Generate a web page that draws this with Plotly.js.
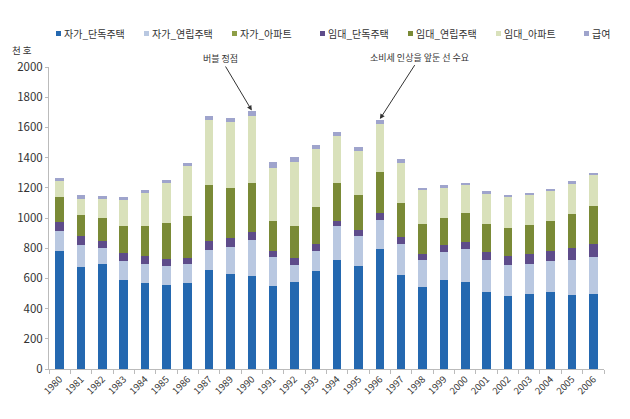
<!DOCTYPE html>
<html>
<head>
<meta charset="utf-8">
<script src="https://cdn.plot.ly/plotly-3.0.1.min.js"></script>
<style>
  body { margin: 0; background: #fff; }
  #chart { width: 630px; height: 419px; }
</style>
</head>
<body>
<div id="chart"></div>
<script>
var years = ["1980", "1981", "1982", "1983", "1984", "1985", "1986", "1987", "1989", "1990",
  "1991", "1992", "1993", "1994", "1995", "1996", "1997", "1998", "1999", "2000",
  "2001", "2002", "2003", "2004", "2005", "2006"];

// 천 호
var ownDetached = [783, 678, 697, 592, 572, 557, 572, 653, 631, 617, 548, 576, 649, 719, 680, 794, 620, 543, 592, 576, 508, 482, 497, 508, 491, 499];
var ownRow = [132, 140, 102, 125, 125, 127, 123, 137, 174, 238, 191, 115, 135, 225, 204, 194, 207, 181, 182, 218, 216, 207, 200, 205, 233, 242];
var ownApt = [0, 0, 0, 0, 0, 0, 0, 0, 0, 0, 0, 0, 0, 0, 0, 0, 0, 0, 0, 0, 0, 0, 0, 0, 0, 0];
var rentDetached = [57, 60, 48, 51, 49, 44, 42, 55, 62, 55, 44, 44, 43, 33, 38, 44, 44, 39, 44, 49, 53, 57, 66, 66, 77, 86];
var rentRow = [168, 145, 150, 176, 198, 238, 277, 374, 334, 324, 194, 209, 249, 253, 231, 275, 227, 194, 185, 189, 180, 187, 190, 198, 224, 255];
var rentApt = [105, 106, 127, 176, 220, 264, 330, 433, 436, 440, 352, 429, 380, 312, 293, 315, 268, 229, 198, 187, 207, 209, 200, 202, 205, 203];
var kyuyeo = [22, 22, 22, 22, 22, 22, 22, 22, 26, 33, 40, 28, 27, 29, 21, 26, 24, 15, 16, 13, 13, 13, 13, 13, 13, 13];

var names = ["자가_단독주택", "자가_연립주택", "자가_아파트", "임대_단독주택", "임대_연립주택", "임대_아파트", "급여"];
var series = [ownDetached, ownRow, ownApt, rentDetached, rentRow, rentApt, kyuyeo];
var colors = ["#2468b0", "#b9c8e1", "#8e9e46", "#5e4c8a", "#7a8a36", "#d9e1bb", "#9fa4cc"];

var data = [];
for (var i = 0; i < series.length; i++) {
  data.push({
    x: years,
    y: series[i],
    name: names[i],
    type: "bar",
    marker: { color: colors[i] },
    hoverinfo: "name+y"
  });
}

// plot area in pixels: left 49, width 555, top 67, height 302
var plotL = 49, plotW = 555, plotT = 67, plotH = 302;
function px(x) { return (x - plotL) / plotW; }
function py(y) { return (plotT + plotH - y) / plotH; }

// legend drawn by hand so the marker sits close to its text, like the original
var shapes = [];
var annotations = [];
for (var i = 0; i < names.length; i++) {
  var lx = 56 + i * 88;
  shapes.push({
    type: "rect", xref: "paper", yref: "paper",
    x0: px(lx), x1: px(lx + 5), y0: py(36), y1: py(31),
    fillcolor: colors[i], line: { width: 0 }
  });
  annotations.push({
    xref: "paper", yref: "paper", x: px(lx + 6), y: py(33.5),
    xanchor: "left", yanchor: "middle", showarrow: false,
    text: names[i], font: { size: 10, color: "#333" }
  });
}

annotations.push({
  xref: "paper", yref: "paper", x: px(22), y: py(50),
  xanchor: "center", yanchor: "middle",
  text: "천 호", showarrow: false, font: { size: 9.5, color: "#333" }
});
annotations.push({
  x: 9, y: 1712, xref: "x", yref: "y",
  text: "버블 정점", showarrow: true,
  arrowhead: 2, arrowsize: 1, arrowwidth: 1, arrowcolor: "#333",
  ax: -31, ay: -52,
  font: { size: 9, color: "#333" }
});
annotations.push({
  x: 15, y: 1655, xref: "x", yref: "y",
  text: "소비세 인상을 앞둔 선 수요", showarrow: true,
  arrowhead: 2, arrowsize: 1, arrowwidth: 1, arrowcolor: "#333",
  ax: 40, ay: -62,
  font: { size: 9, color: "#333" }
});

var layout = {
  width: 630,
  height: 419,
  barmode: "stack",
  bargap: 0.6,
  font: { family: "Noto Sans CJK KR, sans-serif", color: "#333", size: 11 },
  paper_bgcolor: "#fff",
  plot_bgcolor: "#fff",
  margin: { l: plotL, r: 630 - plotL - plotW, t: plotT, b: 419 - plotT - plotH },
  showlegend: false,
  xaxis: {
    type: "category",
    range: [-0.5, 25.5],
    tickangle: -45,
    tickfont: { size: 9.5, color: "#333" },
    showline: true,
    linecolor: "#bbb",
    ticks: "outside",
    tickson: "boundaries",
    ticklen: 4,
    tickcolor: "#bbb",
    showgrid: false
  },
  yaxis: {
    range: [0, 2000],
    dtick: 200,
    tickfont: { size: 11.5, color: "#333" },
    showline: true,
    linecolor: "#bbb",
    ticks: "outside",
    ticklen: 3,
    tickcolor: "#bbb",
    showgrid: false,
    zeroline: false
  },
  shapes: shapes,
  annotations: annotations
};

Plotly.newPlot("chart", data, layout, { displayModeBar: false });
</script>
</body>
</html>
